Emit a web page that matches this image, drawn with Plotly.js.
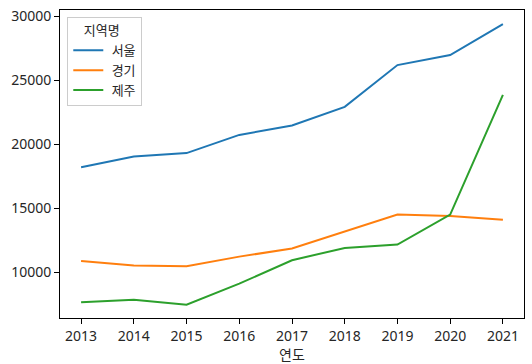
<!DOCTYPE html>
<html>
<head>
<meta charset="utf-8">
<script src="https://cdn.plot.ly/plotly-3.0.1.min.js"></script>
<style>html,body{margin:0;padding:0;background:#fff;}#chart{width:532px;height:364px;}</style>
</head>
<body>
<div id="chart"></div>
<script>
const years = [2013, 2014, 2015, 2016, 2017, 2018, 2019, 2020, 2021];
const seoul = [18200, 19040, 19300, 20720, 21460, 22910, 26170, 26950, 29370];
const gyeonggi = [10880, 10520, 10470, 11220, 11850, 13200, 14500, 14400, 14090];
const jeju = [7660, 7860, 7470, 9110, 10940, 11900, 12160, 14500, 23850];
const seriesNames = ['서울', '경기', '제주'];
const colors = ['#1f77b4', '#ff7f0e', '#2ca02c'];
const font = 'Noto Sans, Noto Sans CJK KR, sans-serif';
const NB = '\u00a0';

const traces = [seoul, gyeonggi, jeju].map((vals, i) => ({
  x: years, y: vals, name: NB + seriesNames[i], type: 'scatter', mode: 'lines',
  line: {color: colors[i], width: 2}
}));

const axisCommon = {
  showgrid: false, zeroline: false, showline: true, linecolor: '#000', linewidth: 1,
  mirror: true, ticks: 'outside', ticklen: 5, tickwidth: 1, tickcolor: '#000',
  tickfont: {family: font, size: 14, color: '#262626'}
};

const layout = {
  width: 532, height: 364,
  margin: {l: 60, r: 8, t: 10, b: 46},
  paper_bgcolor: '#fff', plot_bgcolor: '#fff',
  font: {family: font, color: '#262626'},
  showlegend: true,
  legend: {
    x: 0.0157, y: 0.976, xanchor: 'left', yanchor: 'top',
    bgcolor: 'rgba(255,255,255,0.8)', bordercolor: '#cccccc', borderwidth: 1,
    font: {family: font, size: 13, color: '#262626'},
    title: {text: NB + NB + NB + NB + '지역명', side: 'top', font: {family: font, size: 13, color: '#262626'}},
    tracegroupgap: 0
  },
  xaxis: Object.assign({}, axisCommon, {
    range: [2012.6, 2021.4], tickmode: 'array', tickvals: years, ticktext: years.map(String),
    title: {text: '연도', font: {family: font, size: 14, color: '#262626'}, standoff: 4}
  }),
  yaxis: Object.assign({}, axisCommon, {
    range: [6430, 30470], tickvals: [10000, 15000, 20000, 25000, 30000],
    ticktext: ['10000', '15000', '20000', '25000', '30000']
  })
};

Plotly.newPlot('chart', traces, layout, {displayModeBar: false, staticPlot: true});
</script>
</body>
</html>
